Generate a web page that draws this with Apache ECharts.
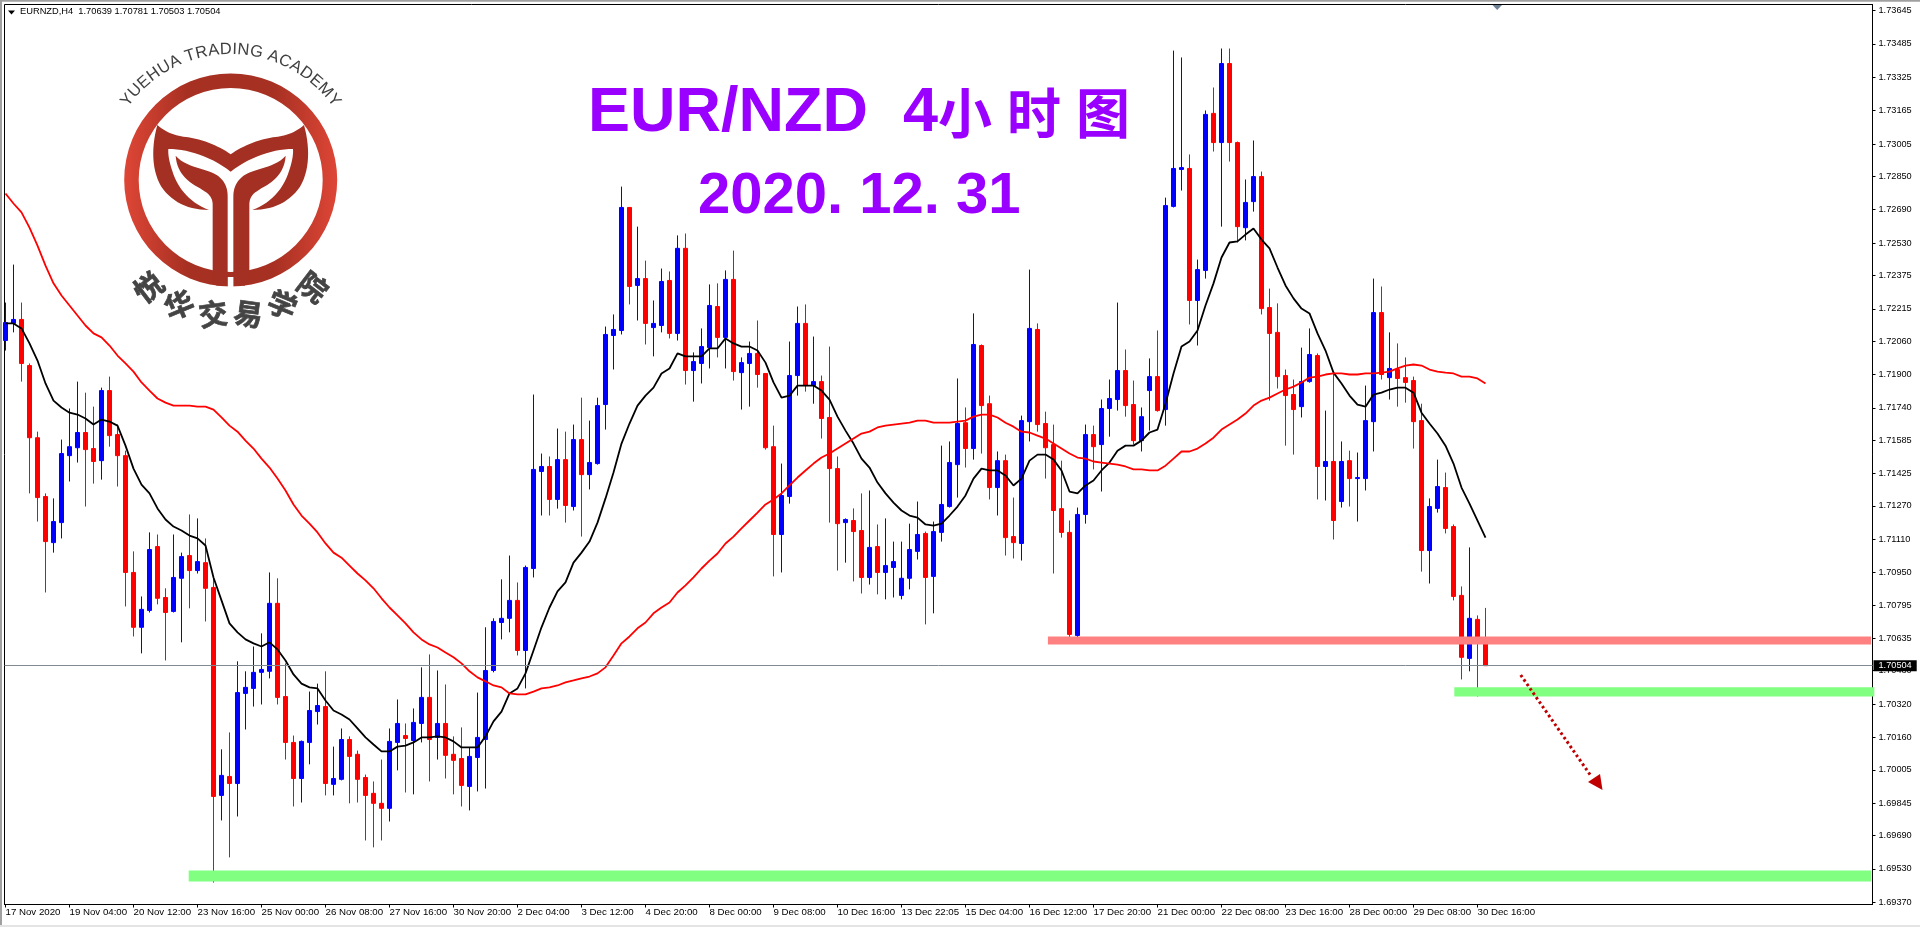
<!DOCTYPE html>
<html><head><meta charset="utf-8">
<style>html,body{margin:0;padding:0;background:#fff}#c{width:1920px;height:927px}</style>
<script src="https://cdn.jsdelivr.net/npm/echarts@6/dist/echarts.min.js"></script>
</head><body><div id="c"></div>
<script>
const opens=[1.72063,1.72145,1.72164,1.71943,1.71597,1.71315,1.71094,1.71190,1.71511,1.71549,
1.71622,1.71545,1.71487,1.71823,1.71612,1.71511,1.70951,1.70688,1.70769,1.71075,
1.70831,1.70764,1.70923,1.71032,1.70960,1.70998,1.70879,1.69882,1.69973,1.69939,
1.70371,1.70395,1.70472,1.70477,1.70803,1.70356,1.70136,1.69963,1.70136,1.70284,
1.70308,1.69935,1.69959,1.70150,1.70079,1.69968,1.69892,1.69844,1.69820,1.70136,
1.70169,1.70145,1.70227,1.70352,1.70160,1.70227,1.70079,1.70059,1.69925,1.70064,
1.70150,1.70481,1.70711,1.70731,1.70817,1.70577,1.70970,1.71435,1.71459,1.71301,
1.71492,1.71267,1.71588,1.71420,1.71473,1.71756,1.72087,1.72111,1.72701,1.72327,
1.72360,1.72125,1.72135,1.72351,1.72097,1.72505,1.71919,1.71953,1.72029,1.72226,
1.72078,1.72356,1.71909,1.71953,1.72001,1.71905,1.71554,1.71133,1.71315,1.71895,
1.72145,1.71847,1.71866,1.71694,1.71449,1.71190,1.71200,1.71152,1.70927,1.71075,
1.70951,1.70975,1.70841,1.70923,1.71052,1.71138,1.70932,1.71143,1.71267,1.71468,
1.71669,1.71545,1.72039,1.71760,1.71358,1.71487,1.71123,1.71090,1.71674,1.72116,
1.71665,1.71564,1.71257,1.71143,1.70649,1.71229,1.71612,1.71564,1.71737,1.71780,
1.71919,1.71756,1.71583,1.71823,1.71890,1.71732,1.72706,1.72883,1.72888,1.72255,
1.72399,1.73152,1.73012,1.73391,1.73012,1.72604,1.72729,1.72849,1.72221,1.72102,
1.71895,1.71804,1.71746,1.71866,1.71991,1.71459,1.71483,1.71291,1.71487,1.71401,
1.71401,1.71674,1.72197,1.71885,1.71924,1.71885,1.71871,1.71679,1.71056,1.71258,
1.71358,1.71171,1.70841,1.70539,1.70726,1.70639];
const closes=[1.72149,1.72164,1.71953,1.71597,1.71310,1.71099,1.71195,1.71521,1.71554,1.71622,
1.71540,1.71483,1.71823,1.71607,1.71511,1.70951,1.70688,1.70774,1.71061,1.70827,
1.70759,1.70927,1.71027,1.70960,1.71003,1.70875,1.69877,1.69978,1.69939,1.70375,
1.70400,1.70472,1.70486,1.70803,1.70352,1.70136,1.69963,1.70141,1.70289,1.70313,
1.69939,1.69963,1.70150,1.70069,1.69959,1.69882,1.69844,1.69820,1.70141,1.70227,
1.70155,1.70232,1.70352,1.70150,1.70227,1.70074,1.70050,1.69930,1.70069,1.70160,
1.70481,1.70716,1.70731,1.70817,1.70577,1.70975,1.71445,1.71459,1.71301,1.71492,
1.71272,1.71588,1.71420,1.71478,1.71751,1.72092,1.72116,1.72701,1.72322,1.72360,
1.72145,1.72145,1.72346,1.72097,1.72505,1.71919,1.71962,1.72034,1.72231,1.72078,
1.72356,1.71914,1.71957,1.72001,1.71900,1.71549,1.71133,1.71320,1.71895,1.72145,
1.71847,1.71866,1.71689,1.71449,1.71185,1.71205,1.71147,1.70927,1.71071,1.70951,
1.70984,1.71003,1.70923,1.71061,1.71133,1.70927,1.71147,1.71277,1.71478,1.71665,
1.71545,1.72044,1.71751,1.71358,1.71487,1.71118,1.71094,1.71679,1.72121,1.71660,
1.71549,1.71248,1.71143,1.70654,1.71229,1.71612,1.71554,1.71737,1.71785,1.71919,
1.71751,1.71583,1.71698,1.71890,1.71727,1.72710,1.72888,1.72892,1.72255,1.72403,
1.73147,1.73012,1.73391,1.73012,1.72609,1.72725,1.72849,1.72216,1.72097,1.71890,
1.71799,1.71732,1.71866,1.71996,1.71459,1.71483,1.71200,1.71483,1.71401,1.71406,
1.71679,1.72197,1.71900,1.71929,1.71881,1.71862,1.71674,1.71056,1.71267,1.71363,
1.71162,1.70836,1.70544,1.70731,1.70635,1.70504];
const lows=[1.72015,1.72102,1.71866,1.71330,1.71195,1.70855,1.71046,1.71114,1.71387,1.71478,
1.71267,1.71377,1.71396,1.71554,1.71363,1.70788,1.70644,1.70563,1.70759,1.70798,
1.70529,1.70759,1.70616,1.70779,1.70946,1.70716,1.69464,1.69762,1.69585,1.69781,
1.70198,1.70308,1.70318,1.70443,1.70318,1.70054,1.69829,1.69848,1.70031,1.70222,
1.69882,1.69882,1.69954,1.69844,1.69848,1.69666,1.69633,1.69666,1.69757,1.70002,
1.69896,1.69887,1.70136,1.69949,1.70054,1.69963,1.69887,1.69829,1.69810,1.69901,
1.69915,1.70472,1.70630,1.70664,1.70553,1.70395,1.70927,1.71224,1.71224,1.71257,
1.71190,1.71248,1.71123,1.71349,1.71468,1.71636,1.71924,1.72092,1.72236,1.72159,
1.72044,1.71987,1.72102,1.72073,1.72063,1.71852,1.71770,1.71857,1.71929,1.71982,
1.71929,1.71871,1.71732,1.71746,1.71837,1.71540,1.70932,1.70951,1.71281,1.71799,
1.71818,1.71760,1.71593,1.71190,1.70960,1.70998,1.70908,1.70850,1.70893,1.70846,
1.70822,1.70831,1.70822,1.70870,1.71013,1.70702,1.70755,1.71099,1.71262,1.71310,
1.71454,1.71492,1.71521,1.71301,1.71224,1.71032,1.71018,1.71008,1.71579,1.71626,
1.71401,1.70946,1.71118,1.70616,1.70611,1.71185,1.71445,1.71339,1.71602,1.71727,
1.71698,1.71564,1.71531,1.71631,1.71722,1.71655,1.72701,1.72782,1.72140,1.72039,
1.72360,1.72969,1.72609,1.72921,1.72533,1.72543,1.72681,1.72188,1.71775,1.71833,
1.71559,1.71516,1.71694,1.71861,1.71301,1.71296,1.71109,1.71262,1.71267,1.71195,
1.71344,1.71531,1.71876,1.71780,1.71746,1.71765,1.71545,1.70955,1.70898,1.71238,
1.71138,1.70817,1.70438,1.70477,1.70356,1.70503];
const highs=[1.72245,1.72427,1.72245,1.71953,1.71626,1.71330,1.71306,1.71588,1.71737,1.71866,
1.71813,1.71746,1.71837,1.71890,1.71660,1.71535,1.71052,1.70836,1.71143,1.71133,
1.70875,1.71133,1.71046,1.71229,1.71210,1.71114,1.70923,1.70103,1.70184,1.70525,
1.70477,1.70596,1.70659,1.70951,1.70923,1.70515,1.70169,1.70145,1.70380,1.70418,
1.70477,1.70116,1.70203,1.70165,1.70097,1.69982,1.69949,1.70054,1.70203,1.70342,
1.70227,1.70299,1.70496,1.70558,1.70481,1.70414,1.70165,1.70208,1.70112,1.70375,
1.70688,1.70731,1.70918,1.71032,1.70903,1.70984,1.71804,1.71521,1.71507,1.71641,
1.71626,1.71660,1.71789,1.71679,1.71789,1.72130,1.72188,1.72801,1.72701,1.72609,
1.72446,1.72255,1.72408,1.72394,1.72567,1.72576,1.72006,1.72121,1.72332,1.72337,
1.72399,1.72494,1.71982,1.72058,1.72159,1.71905,1.71655,1.71473,1.72058,1.72226,
1.72236,1.72082,1.71895,1.72034,1.71507,1.71210,1.71258,1.71330,1.71344,1.71181,
1.71210,1.71099,1.71099,1.71185,1.71291,1.71147,1.71195,1.71559,1.71579,1.71881,
1.71742,1.72193,1.72044,1.71799,1.71531,1.71516,1.71310,1.71703,1.72403,1.72145,
1.71722,1.71660,1.71487,1.71200,1.71262,1.71660,1.71655,1.71780,1.71876,1.72245,
1.72020,1.71871,1.71742,1.71977,1.72111,1.72748,1.73453,1.73420,1.72955,1.72451,
1.73166,1.73276,1.73463,1.73463,1.73017,1.72835,1.73022,1.72873,1.72312,1.72241,
1.71924,1.71876,1.72029,1.72121,1.72001,1.71727,1.71914,1.71579,1.71535,1.71526,
1.71847,1.72360,1.72322,1.72102,1.72049,1.71982,1.71890,1.71760,1.71306,1.71492,
1.71430,1.71181,1.70884,1.71071,1.70745,1.70781];
const maFast=[1.72145,1.72145,1.72121,1.72049,1.71967,1.71857,1.71775,1.71742,1.71717,1.71708,
1.71689,1.71660,1.71684,1.71674,1.71655,1.71559,1.71449,1.71372,1.71330,1.71258,
1.71205,1.71171,1.71152,1.71128,1.71114,1.71080,1.70927,1.70817,1.70707,1.70664,
1.70630,1.70611,1.70596,1.70616,1.70582,1.70529,1.70462,1.70418,1.70400,1.70395,
1.70337,1.70289,1.70270,1.70246,1.70203,1.70160,1.70126,1.70093,1.70093,1.70116,
1.70121,1.70136,1.70160,1.70160,1.70165,1.70160,1.70141,1.70112,1.70112,1.70112,
1.70165,1.70237,1.70284,1.70371,1.70395,1.70467,1.70577,1.70688,1.70783,1.70860,
1.70903,1.70998,1.71046,1.71099,1.71190,1.71306,1.71430,1.71569,1.71665,1.71751,
1.71799,1.71837,1.71905,1.71929,1.72001,1.71987,1.71987,1.71987,1.72025,1.72025,
1.72073,1.72049,1.72034,1.72034,1.72015,1.71957,1.71862,1.71789,1.71799,1.71847,
1.71847,1.71847,1.71823,1.71780,1.71698,1.71631,1.71569,1.71497,1.71454,1.71382,
1.71330,1.71286,1.71248,1.71224,1.71214,1.71181,1.71176,1.71185,1.71224,1.71267,
1.71320,1.71401,1.71449,1.71440,1.71440,1.71416,1.71368,1.71401,1.71487,1.71516,
1.71516,1.71492,1.71440,1.71339,1.71330,1.71368,1.71392,1.71440,1.71478,1.71535,
1.71559,1.71559,1.71583,1.71622,1.71636,1.71760,1.71905,1.72034,1.72058,1.72111,
1.72231,1.72337,1.72461,1.72533,1.72538,1.72571,1.72600,1.72547,1.72505,1.72413,
1.72327,1.72265,1.72216,1.72193,1.72097,1.72015,1.71909,1.71857,1.71799,1.71756,
1.71746,1.71804,1.71813,1.71828,1.71837,1.71837,1.71813,1.71717,1.71665,1.71617,
1.71559,1.71473,1.71358,1.71281,1.71200,1.71118];
const maSlow=[1.72768,1.72720,1.72677,1.72604,1.72518,1.72422,1.72337,1.72279,1.72231,1.72183,
1.72135,1.72097,1.72078,1.72039,1.71991,1.71953,1.71914,1.71862,1.71823,1.71785,
1.71765,1.71751,1.71751,1.71751,1.71746,1.71746,1.71732,1.71694,1.71655,1.71626,
1.71583,1.71545,1.71497,1.71454,1.71401,1.71344,1.71277,1.71224,1.71185,1.71143,
1.71090,1.71046,1.71022,1.70984,1.70946,1.70913,1.70875,1.70827,1.70783,1.70745,
1.70707,1.70664,1.70630,1.70606,1.70591,1.70567,1.70544,1.70515,1.70477,1.70448,
1.70429,1.70409,1.70400,1.70371,1.70366,1.70366,1.70380,1.70395,1.70400,1.70409,
1.70424,1.70433,1.70443,1.70452,1.70467,1.70496,1.70553,1.70611,1.70644,1.70683,
1.70711,1.70755,1.70783,1.70807,1.70855,1.70889,1.70927,1.70970,1.71008,1.71042,
1.71090,1.71123,1.71162,1.71200,1.71238,1.71277,1.71301,1.71330,1.71368,1.71406,
1.71440,1.71473,1.71502,1.71521,1.71545,1.71569,1.71593,1.71617,1.71626,1.71646,
1.71655,1.71660,1.71665,1.71669,1.71679,1.71679,1.71669,1.71669,1.71669,1.71674,
1.71679,1.71698,1.71708,1.71708,1.71694,1.71669,1.71650,1.71626,1.71622,1.71607,
1.71593,1.71569,1.71545,1.71521,1.71502,1.71497,1.71483,1.71478,1.71473,1.71468,
1.71459,1.71445,1.71445,1.71440,1.71440,1.71463,1.71497,1.71531,1.71531,1.71545,
1.71569,1.71597,1.71636,1.71660,1.71684,1.71713,1.71751,1.71775,1.71789,1.71809,
1.71828,1.71842,1.71862,1.71885,1.71890,1.71900,1.71905,1.71905,1.71900,1.71900,
1.71905,1.71905,1.71909,1.71914,1.71929,1.71943,1.71948,1.71943,1.71924,1.71914,
1.71909,1.71905,1.71890,1.71890,1.71881,1.71857];
const priceTicks=[1.73645,1.73485,1.73325,1.73165,1.73005,1.72850,1.72690,1.72530,1.72375,1.72215,1.72060,1.71900,1.71740,1.71585,1.71425,1.71270,1.71110,1.70950,1.70795,1.70635,1.70480,1.70320,1.70160,1.70005,1.69845,1.69690,1.69530,1.69370];
const timeTickIndex=[0,8,16,24,32,40,48,56,64,72,80,88,96,104,112,120,128,136,144,152,160,168,176,184];
const timeTickLabels=['17 Nov 2020','19 Nov 04:00','20 Nov 12:00','23 Nov 16:00','25 Nov 00:00','26 Nov 08:00','27 Nov 16:00','30 Nov 20:00','2 Dec 04:00','3 Dec 12:00','4 Dec 20:00','8 Dec 00:00','9 Dec 08:00','10 Dec 16:00','13 Dec 22:05','15 Dec 04:00','16 Dec 12:00','17 Dec 20:00','21 Dec 00:00','22 Dec 08:00','23 Dec 16:00','28 Dec 00:00','29 Dec 08:00','30 Dec 16:00'];
const lastPrice=1.70504;
const bandStarts=[130.3,181.1,22.9];
const bandEnds=[233.2,233.6,233.2];
const bandLows=[1.70606,1.70356,1.69469];
const bandHighs=[1.70644,1.70400,1.69522];
const bandColors=['#FF8080','#80FF80','#80FF80'];

const chart=echarts.init(document.getElementById('c'),null,{renderer:'canvas'});
const axisFont='"Liberation Sans",Arial,sans-serif';
const purple='#9900FF';

// logo: outlines sampled into polygons (the graphic component has no path element)
function outline(d){
 const nums=s=>s.trim().split(/[\s,]+/).map(Number).map(v=>v/3);
 const polys=[];let cur=null,p=[0,0];
 for(const m of d.matchAll(/([MCQLZ])([^MCQLZ]*)/g)){
  const n=m[2].trim()?nums(m[2]):[];
  if(m[1]==='M'){cur=[[n[0],n[1]]];polys.push(cur);p=[n[0],n[1]];}
  else if(m[1]==='L'){cur.push([n[0],n[1]]);p=[n[0],n[1]];}
  else if(m[1]==='C'){for(let t=1;t<=14;t++){const k=t/14,u=1-k;
    cur.push([u*u*u*p[0]+3*u*u*k*n[0]+3*u*k*k*n[2]+k*k*k*n[4],u*u*u*p[1]+3*u*u*k*n[1]+3*u*k*k*n[3]+k*k*k*n[5]]);}p=[n[4],n[5]];}
  else if(m[1]==='Q'){for(let t=1;t<=10;t++){const k=t/10,u=1-k;
    cur.push([u*u*p[0]+2*u*k*n[0]+k*k*n[2],u*u*p[1]+2*u*k*n[1]+k*k*n[3]]);}p=[n[2],n[3]];}
 }
 return polys;
}
const lx=230.7, ly=180;
const logoEls=[
 {type:'ring',z:50,shape:{cx:lx,cy:ly,r:106.5,r0:92},style:{fill:{type:'linear',x:0,y:0,x2:1,y2:0,colorStops:[{offset:0,color:'#DE4636'},{offset:.3,color:'#A63022'},{offset:.7,color:'#A63022'},{offset:1,color:'#DE4636'}]}}}
];
const logoShapes='M472,375 C500,400 530,408 565,412 C615,420 660,440 692,463 C724,440 769,420 819,412 C854,408 884,400 912,375 C930,440 930,510 900,560 C870,605 820,630 757,630 C810,610 850,570 868,510 C878,480 880,460 879,447 C820,447 750,470 692,515 C634,470 564,447 505,447 C504,460 506,480 516,510 C534,570 574,610 627,630 C564,630 514,605 484,560 C454,510 454,440 472,375 Z M527,467 C560,505 620,505 650,525 C672,540 683,560 683,590 L683,825 Q683,855 650,857 L638,840 L638,615 C638,590 625,580 600,565 C560,545 530,515 527,467 Z M857,467 C824,505 764,505 734,525 C712,540 700,560 700,590 L700,825 Q700,855 734,857 L748,840 L748,615 C748,590 759,580 784,565 C824,545 854,515 857,467 Z';
outline(logoShapes).forEach(pts=>logoEls.push({type:'polygon',z:51,shape:{points:pts},style:{fill:'#A33022'}}));
logoEls.push({type:'rect',z:52,shape:{x:227.8,y:277,width:5.6,height:11},style:{fill:'#fff'}});
const meas=document.createElement('canvas').getContext('2d');
(function(){
 const s='YUEHUA TRADING ACADEMY', f='16.5px "Liberation Sans",Arial,sans-serif', r=122; meas.font=f;
 const total=meas.measureText(s).width, span=total/r; let pos=0;
 for(const ch of s){const w=meas.measureText(ch).width, a=-span/2+(pos+w/2)/r; pos+=w;
  logoEls.push({type:'text',z:53,x:lx+r*Math.sin(a),y:ly-r*Math.cos(a),rotation:-a,style:{text:ch,font:f,fill:'#404040',align:'center',verticalAlign:'bottom'}});}
 const c='悦华交易学院', angles=[37.5,22.5,7.5,-7.5,-22.5,-37.5];
 [...c].forEach((ch,i)=>{const a=angles[i]*Math.PI/180, R=135;
  logoEls.push({type:'text',z:53,x:lx-R*Math.sin(a),y:ly+R*Math.cos(a),rotation:a,style:{text:ch,font:'bold 29px "Noto Sans CJK SC",sans-serif',fill:'#444444',stroke:'#444444',lineWidth:0.7,align:'center',verticalAlign:'middle'}});});
})();

const titleRich={
 a:{fontFamily:'"Liberation Sans",Arial,sans-serif',fontWeight:'bold',fontSize:63,color:purple},
 s:{fontFamily:'"Liberation Sans",Arial,sans-serif',fontSize:54,color:purple},
 b:{fontFamily:'"Noto Sans CJK SC",sans-serif',fontWeight:'bold',fontSize:54,color:purple}};
const option={
 backgroundColor:'#fff',animation:false,
 title:[
  {text:'EURNZD,H4  1.70639 1.70781 1.70503 1.70504',left:20,top:7,padding:0,textStyle:{fontFamily:axisFont,fontSize:9.3,fontWeight:'normal',color:'#000'}},
  {text:'{a|EUR/NZD  4}{b|小}{s| }{b|时}{s| }{b|图}',left:588,top:82,padding:0,textStyle:{rich:titleRich}},
  {text:'2020. 12. 31',left:698,top:168,padding:0,textStyle:{fontFamily:'"Liberation Sans",Arial,sans-serif',fontWeight:'bold',fontSize:58,color:purple}}
 ],
 grid:{left:4.5,top:4.5,width:1868,height:900,show:true,borderColor:'#000',borderWidth:1,backgroundColor:'#fff'},
 xAxis:{type:'value',min:-0.125,max:233.375,splitLine:{show:false},
  axisLine:{show:true,lineStyle:{color:'#000'}},
  axisTick:{show:true,length:3,customValues:timeTickIndex,lineStyle:{color:'#000'}},
  axisLabel:{customValues:timeTickIndex,formatter:v=>timeTickLabels[timeTickIndex.indexOf(Math.round(v))]||'',align:'left',margin:3,fontFamily:axisFont,fontSize:9.7,color:'#000',hideOverlap:false}},
 yAxis:{type:'value',position:'right',min:1.69359,max:1.73674,splitLine:{show:false},
  axisLine:{show:true,onZero:false,lineStyle:{color:'#000'}},
  axisTick:{show:true,length:3,customValues:priceTicks,lineStyle:{color:'#000'}},
  axisLabel:{customValues:priceTicks,formatter:v=>v.toFixed(5),margin:6,fontFamily:axisFont,fontSize:9.2,color:'#000',hideOverlap:false}},
 series:[
  {type:'candlestick',name:'EURNZD,H4',z:3,barWidth:5,encode:{x:0,y:[1,2,3,4]},
   data:opens.map((o,i)=>[i,o,closes[i],lows[i],highs[i]]),
   itemStyle:{color:'#0000FF',color0:'#FF0000',borderColor:'#0000FF',borderColor0:'#FF0000',borderWidth:1}},
  {type:'line',name:'MA fast',z:4,symbol:'none',data:maFast.map((v,i)=>[i,v]),lineStyle:{color:'#000',width:1.8},silent:true,
   markLine:{silent:true,symbol:'none',animation:false,precision:5,data:[{yAxis:lastPrice}],lineStyle:{color:'#808890',width:1,type:'solid'},
    label:{position:'end',distance:1,formatter:()=>lastPrice.toFixed(5),color:'#fff',backgroundColor:'#000',padding:[1,5,1,5],fontFamily:axisFont,fontSize:9.2}}},
  {type:'line',name:'MA slow',z:4,symbol:'none',data:maSlow.map((v,i)=>[i,v]),lineStyle:{color:'#FF0000',width:1.8},silent:true},
  {type:'custom',name:'levels',z:6,silent:true,clip:false,data:bandStarts.map((x,i)=>[x,bandHighs[i]]),
   renderItem:(p,api)=>{const i=p.dataIndex,a=api.coord([bandStarts[i],bandHighs[i]]),b=api.coord([bandEnds[i],bandLows[i]]);
    return {type:'rect',shape:{x:a[0],y:a[1],width:b[0]-a[0],height:b[1]-a[1]},style:{fill:bandColors[i],blend:'multiply'}};}}
 ],
 graphic:{elements:[
  {type:'rect',z:60,shape:{x:0,y:0,width:1920,height:1.7},style:{fill:'#A0A0A0'}},
  {type:'rect',z:60,shape:{x:0,y:0,width:2,height:927},style:{fill:'#A0A0A0'}},
  {type:'rect',z:60,shape:{x:0,y:925,width:1920,height:2},style:{fill:'#E4E4E4'}},
  {type:'polygon',z:60,shape:{points:[[8,10.5],[15,10.5],[11.5,14.5]]},style:{fill:'#000'}},
  {type:'polygon',z:60,shape:{points:[[1492.5,5],[1502,5],[1497.2,10]]},style:{fill:'#6E8296'}},
  {type:'line',z:60,shape:{x1:1520.7,y1:675,x2:1591,y2:776},style:{stroke:'#C00000',lineWidth:3,lineDash:[2.6,2.8]}},
  {type:'polygon',z:60,shape:{points:[[1588,782],[1600,774],[1602.5,790]]},style:{fill:'#C00000'}},
  ...logoEls
 ]}
};
chart.setOption(option);
</script></body></html>
